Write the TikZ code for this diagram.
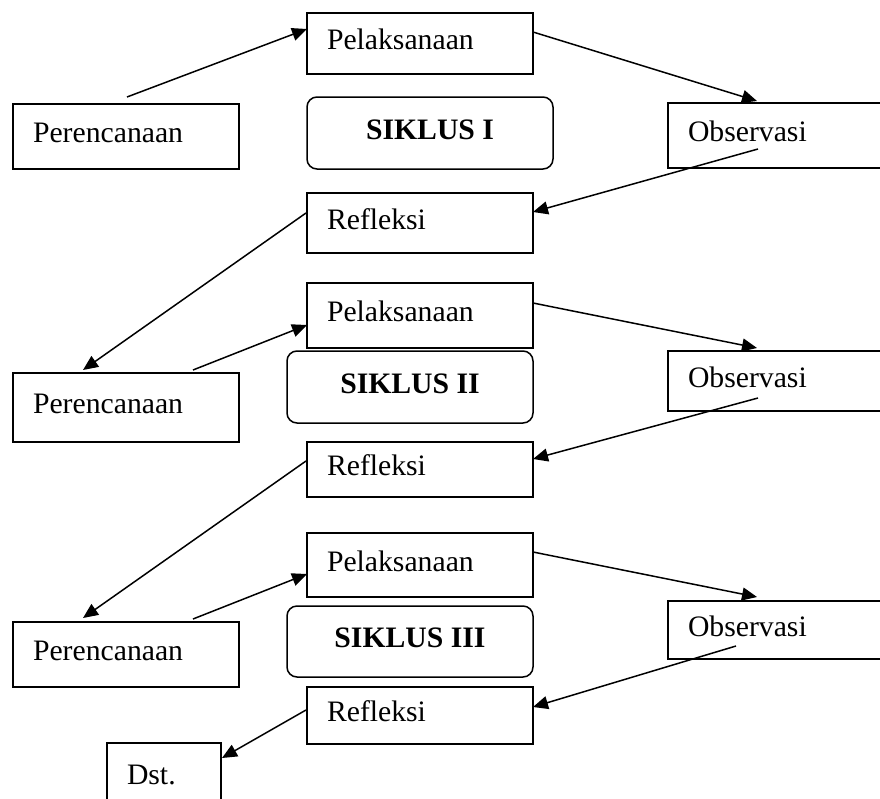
\documentclass[tikz,border=0pt]{standalone}
\usepackage{fontspec}
\setmainfont{Liberation Serif}
\usetikzlibrary{arrows.meta,calc}
\tikzset{
  bx/.style={draw, line width=1.5pt, rectangle, anchor=north west, inner xsep=20pt, inner ysep=2pt, outer sep=0pt,
    align=left, text height=14pt, text depth=2pt, font=\fontsize{29.7}{34}\selectfont},
  wide/.style={text width=186pt, minimum width=226pt},
  obsbox/.style={text width=190pt, minimum width=230pt},
  sik/.style={draw, line width=1.5pt, rounded corners=10pt, anchor=north west, inner sep=0pt, outer sep=0pt,
    minimum width=246pt, text height=14pt, text depth=2pt, font=\fontsize{29.7}{34}\selectfont\bfseries},
  arr/.style={line width=1.5pt, -{Triangle[length=15pt,width=13pt]}}
}
\begin{document}
\begin{tikzpicture}[x=1pt,y=-1pt]
\clip (0,0) rectangle (880,798);
\fill[white] (0,0) rectangle (880,798);
% Cycle I
\node[bx,wide,minimum height=65pt] (per1) at (13,104) {Perencanaan};
\node[bx,wide,minimum height=61pt] (pel1) at (307,13) {Pelaksanaan};
\node[sik,minimum height=72pt] (sik1) at (307,97) {SIKLUS I};
\node[bx,obsbox,minimum height=65pt] (obs1) at (668,103) {Observasi};
\node[bx,wide,minimum height=60pt] (ref1) at (307,193) {Refleksi};
% Cycle II
\node[bx,wide,minimum height=69pt] (per2) at (13,373) {Perencanaan};
\node[bx,wide,minimum height=65pt] (pel2) at (307,283) {Pelaksanaan};
\node[sik,minimum height=72pt] (sik2) at (287,351) {SIKLUS II};
\node[bx,obsbox,minimum height=60pt] (obs2) at (668,351) {Observasi};
\node[bx,wide,minimum height=55pt] (ref2) at (307,442) {Refleksi};
% Cycle III
\node[bx,wide,minimum height=65pt] (per3) at (13,622) {Perencanaan};
\node[bx,wide,minimum height=64pt] (pel3) at (307,533) {Pelaksanaan};
\node[sik,minimum height=71pt] (sik3) at (287,606) {SIKLUS III};
\node[bx,obsbox,minimum height=58pt] (obs3) at (668,601) {Observasi};
\node[bx,wide,minimum height=57pt] (ref3) at (307,687) {Refleksi};
\node[bx,text width=74pt,minimum width=114pt,minimum height=70pt] (dst) at (107,743) {Dst.};
% Arrows
\draw[arr] ($(per1.north west)+(114,-7)$) -- ($(pel1.north west)+(0,16)$);
\draw[arr] ($(pel1.north east)+(0,19)$) -- ($(obs1.north west)+(89,-2)$);
\draw[arr] ($(obs1.north west)+(90,46)$) -- ($(ref1.north east)+(0,19)$);
\draw[arr] ($(ref1.north west)+(-1,20)$) -- ($(per2.north west)+(70,-3)$);
\draw[arr] ($(per2.north west)+(180,-3)$) -- ($(pel2.north west)+(0,42)$);
\draw[arr] ($(pel2.north east)+(0,20)$) -- ($(obs2.north west)+(89,-3)$);
\draw[arr] ($(obs2.north west)+(90,47)$) -- ($(ref2.north east)+(0,17)$);
\draw[arr] ($(ref2.north west)+(-1,19)$) -- ($(per3.north west)+(70,-4)$);
\draw[arr] ($(per3.north west)+(180,-3)$) -- ($(pel3.north west)+(0,41)$);
\draw[arr] ($(pel3.north east)+(0,19)$) -- ($(obs3.north west)+(89,-4)$);
\draw[arr] ($(obs3.north west)+(68,45)$) -- ($(ref3.north east)+(0,20)$);
\draw[arr] ($(ref3.north west)+(-1,23)$) -- ($(dst.north east)+(1,15)$);
\end{tikzpicture}
\end{document}
